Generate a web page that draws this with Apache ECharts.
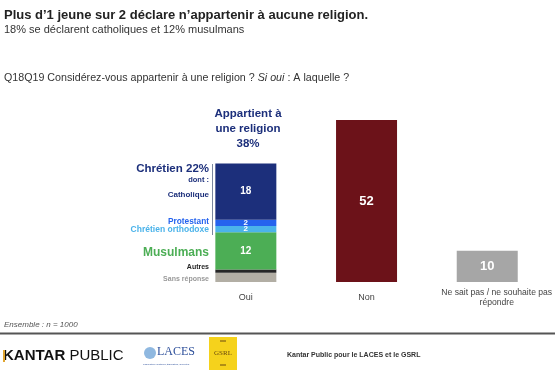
<!DOCTYPE html>
<html><head><meta charset="utf-8">
<script src="https://cdn.jsdelivr.net/npm/echarts@6/dist/echarts.min.js"></script>
<style>html,body{margin:0;padding:0;background:#fff}#c{width:555px;height:370px}</style>
</head><body><div id="c"></div>
<script>
const categories = ['Oui', 'Non', 'Ne sait pas / ne souhaite pas\nrépondre'];
const segNames = ['Sans réponse', 'Autres', 'Musulmans', 'Chrétien orthodoxe', 'Protestant', 'Catholique'];
const segValues = [3, 1, 12, 2, 2, 18];
const nonValue = 52;
const nspValue = 10;
const segColors = ['#b2aea4', '#262626', '#4cae55', '#4bb3ea', '#2563ee', '#1c2f7b'];
const segLabelSizes = [0, 0, 10, 8, 8, 10];

const chart = echarts.init(document.getElementById('c'));
const FONT = 'Liberation Sans, Arial, sans-serif';
const series = segNames.map((n, i) => ({
  name: n, type: 'bar', stack: 'a', barWidth: 61,
  data: [segValues[i], '-', '-'],
  itemStyle: { color: segColors[i] },
  label: { show: segLabelSizes[i] > 0, position: 'inside', color: '#fff', fontWeight: 'bold',
           fontSize: segLabelSizes[i] || 8, fontFamily: FONT, lineHeight: 6 }
}));
series.push({ name: 'Non', type: 'bar', stack: 'a', barWidth: 61, data: ['-', nonValue, '-'],
  itemStyle: { color: '#6c1219' },
  label: { show: true, position: 'inside', color: '#fff', fontWeight: 'bold', fontSize: 13, fontFamily: FONT } });
series.push({ name: 'NSP', type: 'bar', stack: 'a', barWidth: 61, data: ['-', '-', nspValue],
  itemStyle: { color: '#a6a6a6' },
  label: { show: true, position: 'inside', color: '#fff', fontWeight: 'bold', fontSize: 13, fontFamily: FONT } });

const txt = (x, y, s, style) => ({ type: 'text', x, y, style: Object.assign({ text: s, fontFamily: FONT }, style) });
const R = (x, y, s, fs, color, weight) => txt(x, y, s, { fontSize: fs, fill: color, fontWeight: weight || 'bold', align: 'right', verticalAlign: 'middle' });

chart.setOption({
  animation: false,
  grid: { left: 185.5, width: 363, top: 95, height: 187 },
  xAxis: { type: 'category', data: categories, axisLine: { show: false }, axisTick: { show: false },
    axisLabel: { color: '#444', fontSize: 9, fontFamily: FONT, margin: 16, lineHeight: 9.5, interval: 0, verticalAlign: 'middle',
      formatter: (v, i) => i === 2 ? v.split('\n').map(s => '{n|' + s + '}').join('\n') : v,
      rich: { n: { fontSize: 8.6, fontFamily: FONT, color: '#444', lineHeight: 10, padding: [0, 0, 0, 19] } } } },
  yAxis: { type: 'value', min: 0, max: 60, show: false },
  series,
  graphic: [
    txt(4, 9, 'Plus d\u20191 jeune sur 2 déclare n\u2019appartenir à aucune religion.', { fontSize: 13, fontWeight: 'bold', fill: '#222' }),
    txt(4, 24, '18% se déclarent catholiques et 12% musulmans', { fontSize: 11, fill: '#333' }),
    txt(4, 72.5, '{a|Q18Q19 Considérez-vous appartenir à une religion ? }{b|Si oui}{a| : A laquelle ?}',
      { fontSize: 10.7, fill: '#333', rich: { a: { fontSize: 10.7, fontFamily: FONT, fill: '#333' }, b: { fontSize: 10.7, fontFamily: FONT, fontStyle: 'italic', fill: '#333' } } }),
    txt(248, 106, 'Appartient à\nune religion\n38%', { fontSize: 11.5, fontWeight: 'bold', fill: '#1c2f7b', align: 'center', lineHeight: 15 }),
    R(209, 169, 'Chrétien 22%', 11.5, '#1c2f7b'),
    R(209, 180, 'dont :', 7.5, '#1c2f7b'),
    R(209, 195, 'Catholique', 8, '#1c2f7b'),
    R(209, 222, 'Protestant', 8.3, '#2563ee'),
    R(209, 230, 'Chrétien orthodoxe', 8.5, '#4bb3ea'),
    R(209, 253, 'Musulmans', 12, '#4cae55'),
    R(209, 267, 'Autres', 7, '#262626'),
    R(209, 279, 'Sans réponse', 7, '#999'),
    { type: 'line', shape: { x1: 212.5, y1: 164, x2: 212.5, y2: 235 }, style: { stroke: '#7a869e', lineWidth: 1 } },
    txt(4, 321, 'Ensemble : n = 1000', { fontSize: 8, fontStyle: 'italic', fill: '#555' }),
    { type: 'line', shape: { x1: 0, y1: 333.5, x2: 555, y2: 333.5 }, style: { stroke: '#555', lineWidth: 2 } },
    txt(3, 348, '{k|KANTAR} {p|PUBLIC}', { fontSize: 15, fill: '#111',
      rich: { k: { fontSize: 15, fontWeight: 'bold', fontFamily: FONT, fill: '#111' }, p: { fontSize: 15, fontWeight: 'normal', fontFamily: FONT, fill: '#111' } } }),
    { type: 'rect', shape: { x: 3, y: 350, width: 2, height: 12 }, style: { fill: '#e0a530' } },
    { type: 'circle', shape: { cx: 150, cy: 353, r: 6 }, style: { fill: '#8fb8e0' } },
    txt(157, 346, 'LACES', { fontSize: 12, fontFamily: 'Liberation Serif, serif', fill: '#2d4f9a' }),
    txt(143, 363, 'Laboratoire Cultures, Éducation, Sociétés', { fontSize: 2.5, fill: '#2d4f9a' }),
    { type: 'rect', shape: { x: 209, y: 337, width: 28, height: 33 }, style: { fill: '#f5d21c' } },
    txt(223, 353, 'GSRL', { fontSize: 7, fontFamily: 'Liberation Serif, serif', fill: '#6a4a10', align: 'center', verticalAlign: 'middle' }),
    { type: 'line', shape: { x1: 220, y1: 341, x2: 226, y2: 341 }, style: { stroke: '#6a4a10', lineWidth: 1 } },
    { type: 'line', shape: { x1: 220, y1: 365, x2: 226, y2: 365 }, style: { stroke: '#6a4a10', lineWidth: 1 } },
    txt(287, 352, 'Kantar Public pour le LACES et le GSRL', { fontSize: 7, fontWeight: 'bold', fill: '#333' })
  ]
});
</script></body></html>
